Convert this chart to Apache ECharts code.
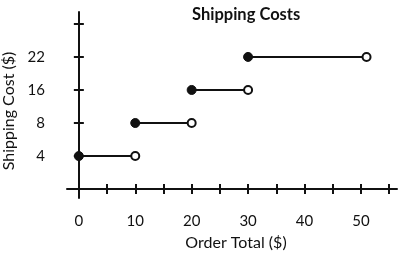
<!DOCTYPE html>
<html>
<head>
<meta charset="utf-8">
<script src="https://cdn.jsdelivr.net/npm/echarts@6/dist/echarts.min.js"></script>
<style>html,body{margin:0;padding:0;background:#fff;}#c{width:412px;height:256px;}</style>
</head>
<body>
<div id="c"></div>
<script>
// Data
const orderStart = [0, 10, 20, 30];
const orderEnd = [10, 20, 30, 51];
const shippingCost = [4, 8, 16, 22];
const yTickLabels = ['4', '8', '16', '22'];
const xTickValues = [0, 5, 10, 15, 20, 25, 30, 35, 40, 45, 50, 55];
const xLabelValues = [0, 10, 20, 30, 40, 50];

const FONT = 'Lato';
const INK = '#111';

// y axis is ordinal in the original: each cost sits on its own evenly spaced tick
const yPos = v => yTickLabels.indexOf(String(v)) + 1;
const yTickPos = [0, 1, 2, 3, 4, 5];

const series = orderStart.map((s, i) => ({
  type: 'line',
  xAxisIndex: 0, yAxisIndex: 0,
  data: [
    { value: [s, yPos(shippingCost[i])], symbol: 'circle', symbolSize: 9, itemStyle: { color: INK, borderColor: INK, borderWidth: 1 } },
    { value: [orderEnd[i], yPos(shippingCost[i])], symbol: 'circle', symbolSize: 8, itemStyle: { color: '#fff', borderColor: INK, borderWidth: 2 } }
  ],
  lineStyle: { color: INK, width: 2 },
  showSymbol: true,
  animation: false,
  z: 5
}));

const xBase = {
  type: 'value', min: -2.1, max: 56.4,
  splitLine: { show: false }
};
const yBase = {
  type: 'value', min: -0.27, max: 5.36,
  splitLine: { show: false }
};

const chart = echarts.init(document.getElementById('c'));
chart.setOption({
  animation: false,
  backgroundColor: '#fff',
  title: {
    text: 'Shipping Costs', left: 187, top: 1,
    textStyle: { fontFamily: FONT, fontWeight: 'bold', fontSize: 16.5, color: '#111' }
  },
  grid: { left: 67, right: 15, top: 12, bottom: 58, containLabel: false, outerBoundsMode: 'none' },
  xAxis: [
    Object.assign({}, xBase, {
      position: 'bottom',
      name: 'Order Total ($)', nameLocation: 'middle', nameGap: 37,
      nameTextStyle: { fontFamily: FONT, fontSize: 16, color: '#111', padding: [0, 0, 0, 8] },
      axisLine: { onZero: true, lineStyle: { color: INK, width: 2 } },
      axisTick: { show: true, inside: false, length: 5, customValues: xTickValues, lineStyle: { color: INK, width: 2 } },
      axisLabel: { customValues: xLabelValues, margin: 16, fontFamily: FONT, fontSize: 15, color: '#111' }
    }),
    Object.assign({}, xBase, {
      position: 'top',
      axisLine: { show: false, onZero: true },
      axisTick: { show: true, length: 5, customValues: xTickValues, lineStyle: { color: INK, width: 2 } },
      axisLabel: { show: false }
    })
  ],
  yAxis: [
    Object.assign({}, yBase, {
      position: 'left',
      name: 'Shipping Cost ($)', nameLocation: 'middle', nameGap: 35,
      nameTextStyle: { fontFamily: FONT, fontSize: 16, color: '#111', padding: [0, 12, 0, 0] },
      axisLine: { onZero: true, lineStyle: { color: INK, width: 2 } },
      axisTick: { show: true, length: 5, customValues: yTickPos, lineStyle: { color: INK, width: 2 } },
      axisLabel: {
        customValues: [1, 2, 3, 4], margin: 22, fontFamily: FONT, fontSize: 15, color: '#111',
        formatter: v => yTickLabels[Math.round(v) - 1] || ''
      }
    }),
    Object.assign({}, yBase, {
      position: 'right',
      axisLine: { show: false, onZero: true },
      axisTick: { show: true, length: 5, customValues: yTickPos, lineStyle: { color: INK, width: 2 } },
      axisLabel: { show: false }
    })
  ],
  series: series
});
</script>
</body>
</html>
